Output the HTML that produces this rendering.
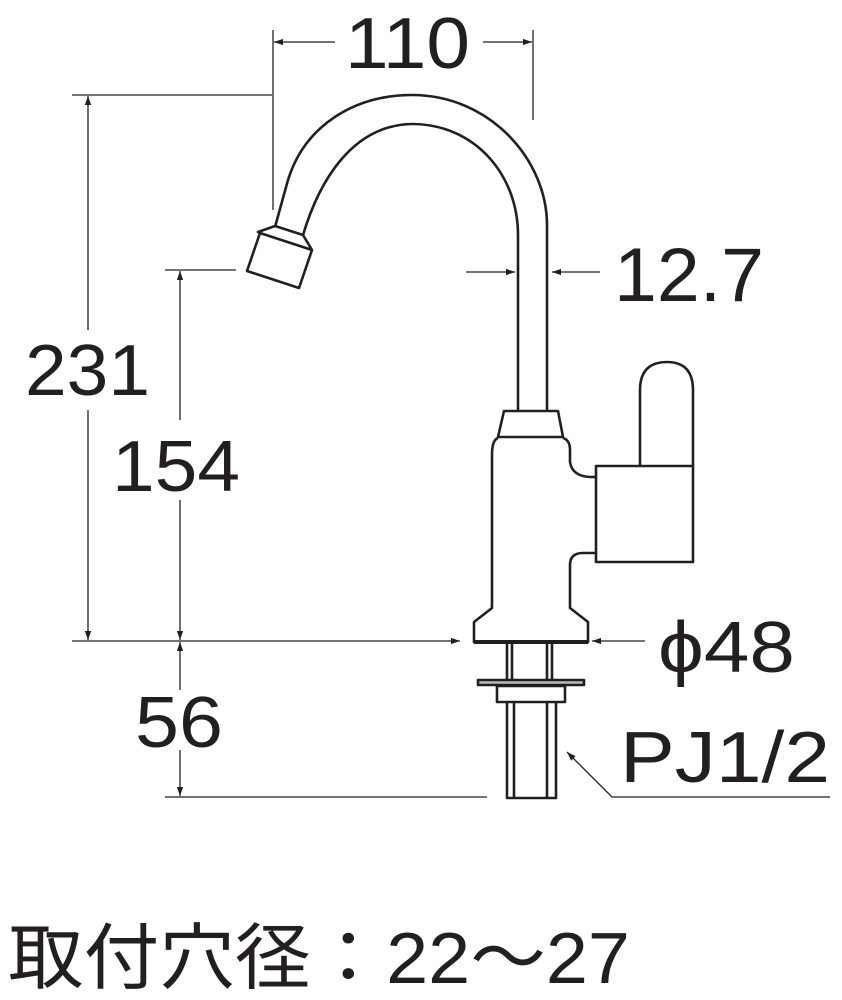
<!DOCTYPE html>
<html><head><meta charset="utf-8"><style>html,body{margin:0;padding:0;background:#fff}svg{display:block}</style></head><body>
<svg width="842" height="1000" viewBox="0 0 842 1000" xmlns="http://www.w3.org/2000/svg">
<defs>
<marker id="b" viewBox="0 0 10 10" refX="10" refY="5" markerWidth="18" markerHeight="9" markerUnits="userSpaceOnUse" orient="auto"><path d="M0,1.5 L10,5 L0,8.5 z" fill="#231f20"/></marker></defs>
<g fill="none" stroke="#231f20" stroke-width="1.3">
<line x1="273" y1="30" x2="273" y2="210"/><line x1="533" y1="30" x2="533" y2="120"/>
<line x1="72" y1="95" x2="272" y2="95"/><line x1="165" y1="270" x2="236" y2="270"/>
<line x1="72" y1="641" x2="460" y2="641" marker-end="url(#b)"/>
<line x1="165" y1="797" x2="487" y2="797"/>
<line x1="335" y1="42" x2="274" y2="42" marker-end="url(#b)"/>
<line x1="483" y1="42" x2="532" y2="42" marker-end="url(#b)"/>
<line x1="88" y1="330" x2="88" y2="96" marker-end="url(#b)"/>
<line x1="88" y1="410" x2="88" y2="640" marker-end="url(#b)"/>
<line x1="180" y1="420" x2="180" y2="271" marker-end="url(#b)"/>
<line x1="180" y1="500" x2="180" y2="640" marker-end="url(#b)"/>
<line x1="180" y1="690" x2="180" y2="642" marker-end="url(#b)"/>
<line x1="180" y1="750" x2="180" y2="796" marker-end="url(#b)"/>
<line x1="466" y1="272" x2="515" y2="272" marker-end="url(#b)"/>
<line x1="600" y1="272" x2="552" y2="272" marker-end="url(#b)"/>
<line x1="645" y1="641" x2="592" y2="641" marker-end="url(#b)"/>
<polyline points="830,797 612,797 567,752" marker-end="url(#b)"/>
</g>
<g fill="none" stroke="#231f20" stroke-width="2.6" stroke-linejoin="round">
<path d="M275,227 L288,180 C305,125 355,95 412,95 C490,95 547,160 547,225 V412"/>
<path d="M303,235 C318,185 350,125 412,124 C475,124 518,175 518,235 V412"/>
<path d="M258,232 L275,226 L303,235 L312,250 L260,233 Z"/>
<path d="M260,233 L247,271 L299,288 L312,250"/>
<path d="M504,411 H558 L563,437 H498 Z"/>
<path d="M498,438 Q492,440 492,455 V608 L474,622 V642 H588 V622 L570,608 V565 Q570,553 583,553 H596"/>
<path d="M563,438 Q570,440 570,450 V462 Q572,476 590,477 H596"/>
<rect x="596" y="466" width="97" height="96"/>
<path d="M640,466 V390 Q640,362 667,362 Q693,362 693,390 V466"/>
<path d="M507,643 V680 M512,643 V680 M547,643 V680 M552,643 V680"/>
<rect x="478" y="680" width="106" height="5" fill="#bbb"/>
<rect x="497" y="686" width="68" height="16"/>
<path d="M507,702 V798 H556 V702 M514,702 V797 M547,702 V797"/>
</g>
<line x1="474" y1="642" x2="588" y2="642" stroke="#231f20" stroke-width="4"/>
<g fill="#231f20" font-family="Liberation Sans, sans-serif" font-size="72" lengthAdjust="spacingAndGlyphs">
<text x="345" y="68" textLength="125" lengthAdjust="spacingAndGlyphs">110</text>
<text x="25" y="395" textLength="125" lengthAdjust="spacingAndGlyphs">231</text>
<text x="112" y="491" textLength="128" lengthAdjust="spacingAndGlyphs">154</text>
<text x="135" y="747" textLength="88" lengthAdjust="spacingAndGlyphs">56</text>
<text x="614" y="301" font-size="76" textLength="150" lengthAdjust="spacingAndGlyphs">12.7</text>
<text x="658" y="672" textLength="137" lengthAdjust="spacingAndGlyphs">ϕ48</text>
<text x="620" y="782" textLength="210" lengthAdjust="spacingAndGlyphs">PJ1/2</text>
<text x="8" y="983" font-size="72" font-family="Liberation Sans, Noto Sans CJK JP, sans-serif" textLength="622" lengthAdjust="spacingAndGlyphs">取付穴径：22～27</text>
</g>
</svg>
</body></html>
